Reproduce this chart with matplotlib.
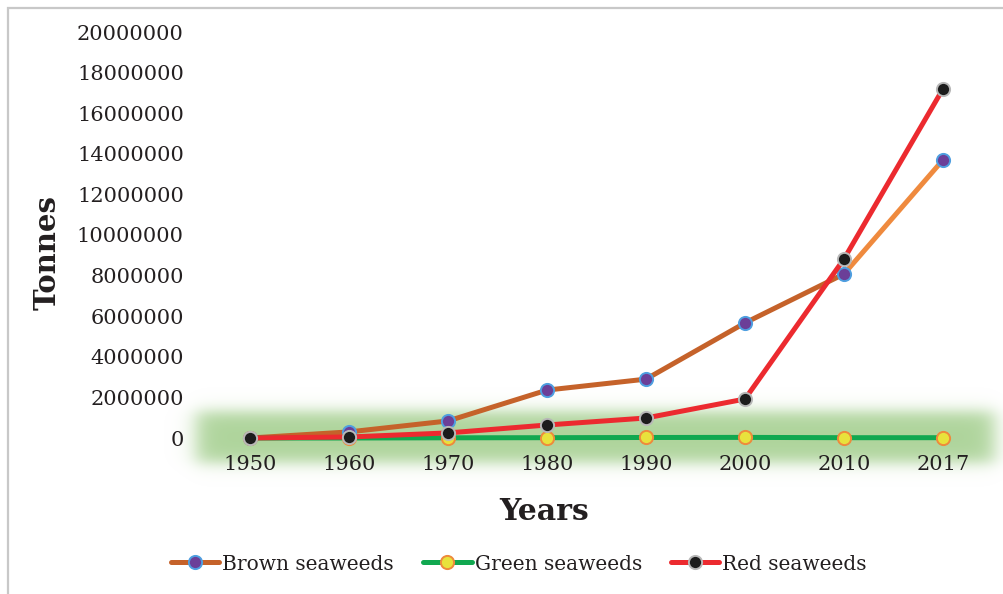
import numpy as np
import matplotlib
matplotlib.use("Agg")
import matplotlib.pyplot as plt
from matplotlib.lines import Line2D
from matplotlib.patches import Rectangle

# Seaweed production by decade (tonnes)
years = ["1950", "1960", "1970", "1980", "1990", "2000", "2010", "2017"]
brown = [0, 300000, 840000, 2360000, 2900000, 5670000, 8080000, 13700000]
green = [0, 0, 10000, 15000, 25000, 30000, 15000, 15000]
red = [0, 50000, 250000, 640000, 985000, 1920000, 8820000, 17200000]
y_ticks = [0, 2000000, 4000000, 6000000, 8000000, 10000000,
           12000000, 14000000, 16000000, 18000000, 20000000]

W, H, DPI = 1004, 594, 100
fig = plt.figure(figsize=(W / DPI, H / DPI), dpi=DPI)
fig.patch.set_facecolor("white")

# soft green glow behind the category axis
bg = fig.add_axes([0, 0, 1, 1], zorder=0)
bg.set_axis_off()
yy, xx = np.mgrid[0:H, 0:W].astype(float)

def soft_edge(v, lo, hi, s):
    return 1 / (1 + np.exp(-(v - lo) / s)) * 1 / (1 + np.exp((v - hi) / s))

alpha = soft_edge(yy, 411, 462, 4.5) * soft_edge(xx, 196, 994, 6.0)
img = np.zeros((H, W, 4))
img[..., 0] = 170 / 255
img[..., 1] = 210 / 255
img[..., 2] = 150 / 255
img[..., 3] = alpha * 0.95
bg.imshow(img, extent=[0, 1, 0, 1], aspect="auto", origin="upper")
bg.set_xlim(0, 1)
bg.set_ylim(0, 1)

# outer frame
fig.patches.append(Rectangle((8 / W, -0.1), 1.2, 1 - 8 / H + 0.1,
                             transform=fig.transFigure, fill=False,
                             edgecolor="#c8c8c8", linewidth=1.6, zorder=5))

ax = fig.add_axes([200.5 / W, 1 - 438 / H, 792 / W, 406 / H], zorder=1)
ax.patch.set_visible(False)
x = np.arange(len(years))

lw = 3.6
ms = 9.5
brown_kw = dict(color="#c5622a", marker="o", markersize=ms,
                markerfacecolor="#6b3f98", markeredgecolor="#4f9fe0",
                markeredgewidth=1.4, linewidth=lw, solid_capstyle="round")
green_kw = dict(color="#11a850", marker="o", markersize=ms,
                markerfacecolor="#e8e23c", markeredgecolor="#ee8a3c",
                markeredgewidth=1.4, linewidth=lw, solid_capstyle="round")
red_kw = dict(color="#ec2a2f", marker="o", markersize=ms,
              markerfacecolor="#1c1c1c", markeredgecolor="#b8b8b8",
              markeredgewidth=1.4, linewidth=lw, solid_capstyle="round")

ax.plot(x[:-1], brown[:-1], zorder=2, **{k: v for k, v in brown_kw.items() if not k.startswith("marker")})
ax.plot(x[-2:], brown[-2:], color="#ef8a3e", linewidth=lw, solid_capstyle="round", zorder=2)
ax.plot(x, brown, linestyle="none", marker="o", markersize=ms,
        markerfacecolor="#6b3f98", markeredgecolor="#4f9fe0", markeredgewidth=1.4, zorder=3)
ax.plot(x, green, zorder=4, **green_kw)
ax.plot(x, red, zorder=5, **red_kw)

ax.set_xlim(-0.5, len(years) - 0.5)
ax.set_ylim(0, 20000000)
ax.set_xticks(x)
ax.set_xticklabels(years)
ax.set_yticks(y_ticks)
ax.set_yticklabels([str(v) for v in y_ticks])
for s in ax.spines.values():
    s.set_visible(False)
ax.tick_params(axis="both", length=0, labelsize=15, colors="#231f20")
ax.tick_params(axis="y", pad=12)
ax.tick_params(axis="x", pad=12)
for lab in ax.get_xticklabels() + ax.get_yticklabels():
    lab.set_family("DejaVu Serif")
for ln in ax.lines:
    ln.set_clip_on(False)

fig.text(544 / W, 1 - 511 / H, "Years", family="DejaVu Serif", weight="black",
         fontsize=21.5, ha="center", va="center", color="#231f20")
fig.text(47 / W, 1 - 252 / H, "Tonnes", family="DejaVu Serif", weight="black",
         fontsize=21, ha="center", va="center", rotation=90, color="#231f20")

handles = [
    Line2D([], [], **brown_kw),
    Line2D([], [], **green_kw),
    Line2D([], [], **red_kw),
]
labels = ["Brown seaweeds", "Green seaweeds", "Red seaweeds"]
leg = fig.legend(handles, labels, loc="center", bbox_to_anchor=(519 / W, 1 - 564 / H),
                 ncol=3, frameon=False, handlelength=2.4, handletextpad=0.15,
                 columnspacing=1.45, prop={"family": "DejaVu Serif", "size": 14.5})
for t in leg.get_texts():
    t.set_color("#231f20")

fig.savefig("out.png", dpi=DPI)
